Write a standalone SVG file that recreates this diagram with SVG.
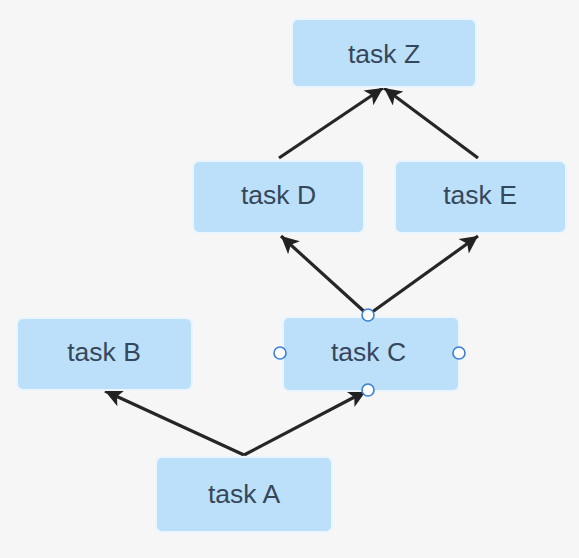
<svg xmlns="http://www.w3.org/2000/svg" width="579" height="558" viewBox="0 0 579 558">
<defs>
<marker id="arr" viewBox="0 0 10 10" refX="10" refY="5" markerWidth="7" markerHeight="5.5" markerUnits="strokeWidth" orient="auto">
<path d="M0,0 L10,5 L0,10 L2.5,5 z" fill="#222"/>
</marker>
<style>
.box{fill:#bde0fa;stroke:#eaf5fd;stroke-width:2}
.lbl{font-family:"Liberation Sans",Arial,sans-serif;font-size:26.5px;fill:#35475a;text-anchor:middle}
.edge{stroke:#262626;stroke-width:3.2;fill:none;marker-end:url(#arr)}
.port{fill:#fff;stroke:#3b7fd6;stroke-width:1.6}
</style>
</defs>
<rect width="579" height="558" fill="#f6f6f6"/>
<g id="connectors">
<line class="edge" x1="244" y1="455" x2="105" y2="391"/>
<line class="edge" x1="244" y1="455" x2="366" y2="391"/>
<line class="edge" x1="368" y1="315" x2="281" y2="236"/>
<line class="edge" x1="368" y1="315" x2="478" y2="236"/>
<line class="edge" x1="279" y1="158" x2="383" y2="88"/>
<line class="edge" x1="478" y1="158" x2="384" y2="88"/>
</g>
<g id="taskZ"><rect class="box" x="292" y="19" width="184" height="68" rx="6"/><text class="lbl" x="384" y="62.5">task Z</text></g>
<g id="taskD"><rect class="box" x="193" y="161" width="171" height="72" rx="6"/><text class="lbl" x="278.5" y="204">task D</text></g>
<g id="taskE"><rect class="box" x="395" y="161" width="171" height="72" rx="6"/><text class="lbl" x="480" y="204">task E</text></g>
<g id="taskB"><rect class="box" x="17" y="318" width="175" height="72" rx="6"/><text class="lbl" x="104" y="361">task B</text></g>
<g id="taskC"><rect class="box" x="283" y="317" width="176" height="74" rx="6"/><text class="lbl" x="368.5" y="361">task C</text>
<circle class="port" cx="368" cy="315" r="6"/>
<circle class="port" cx="280" cy="353" r="6"/>
<circle class="port" cx="459" cy="353" r="6"/>
<circle class="port" cx="368" cy="390" r="6"/>
</g>
<g id="taskA"><rect class="box" x="156" y="457" width="176" height="75" rx="6"/><text class="lbl" x="244" y="503">task A</text></g>
</svg>
